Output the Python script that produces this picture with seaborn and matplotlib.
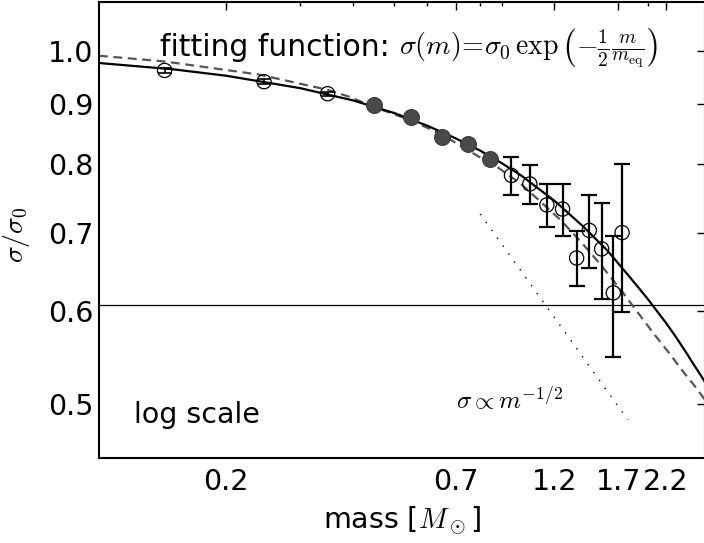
import matplotlib
matplotlib.use("Agg")
import matplotlib.pyplot as plt
import seaborn as sns
from matplotlib.ticker import LogLocator, NullLocator, NullFormatter


# open symbols at the low mass end (tiny error bars)
low_mass = [0.143, 0.246, 0.348]
low_sigma = [0.962, 0.941, 0.919]
low_err = [0.004, 0.004, 0.004]

# filled symbols
mid_mass = [0.448, 0.548, 0.648, 0.750, 0.844]
mid_sigma = [0.899, 0.878, 0.844, 0.833, 0.808]

# open symbols at the high mass end
high_mass = [0.949, 1.049, 1.151, 1.254, 1.354, 1.451, 1.552, 1.654, 1.735]
high_sigma = [0.783, 0.770, 0.739, 0.733, 0.666, 0.703, 0.678, 0.622, 0.700]
high_err = [0.029, 0.029, 0.031, 0.037, 0.036, 0.050, 0.064, 0.074, 0.101]

# solid curve (fitting function)
fit_mass = [0.1, 0.15, 0.2, 0.3, 0.4, 0.5, 0.6, 0.7, 0.8, 0.9, 1.0,
            1.2, 1.4, 1.6, 1.8, 1.9, 2.0, 2.1, 2.2, 2.3, 2.4, 2.48, 2.56,
            2.64, 2.72]
fit_sigma = [0.976, 0.964, 0.952, 0.929, 0.907, 0.885, 0.863, 0.842, 0.822,
             0.802, 0.783, 0.745, 0.709, 0.676, 0.643, 0.628, 0.614, 0.600,
             0.587, 0.574, 0.561, 0.551, 0.541, 0.532, 0.523]

# grey dashed curve
dash_mass = [0.1, 0.143, 0.24, 0.348, 0.39, 0.45, 0.55, 0.65, 0.791, 0.874,
             1.0, 1.238, 1.378, 1.535, 1.733, 1.88, 2.08, 2.25, 2.42, 2.57,
             2.72]
dash_sigma = [0.990, 0.979, 0.954, 0.926, 0.914, 0.895, 0.872, 0.848, 0.813,
              0.797, 0.770, 0.718, 0.689, 0.659, 0.624, 0.600, 0.572, 0.552,
              0.533, 0.519, 0.505]

# dotted sigma ~ m^-1/2 guide
guide_mass = [0.80, 1.79]
guide_sigma = [0.726, 0.485]

# horizontal reference level exp(-1/2)
ref_level = 0.607

x_ticks = [0.2, 0.7, 1.2, 1.7, 2.2]
y_ticks = [0.5, 0.6, 0.7, 0.8, 0.9, 1.0]


def main():
	sns.set_style("white")
	plt.rcParams["font.family"] = ["DejaVu Sans"]
	plt.rcParams["mathtext.fontset"] = "cm"
	plt.rcParams["text.color"] = "k"
	plt.rcParams["axes.labelcolor"] = "k"

	fig = plt.figure(figsize=(7.04, 5.43), dpi=100)
	ax = fig.add_axes([99 / 704, 85 / 543, 605.5 / 704, 456 / 543])

	ax.axhline(ref_level, color="k", lw=0.9, zorder=1)
	sns.lineplot(x=guide_mass, y=guide_sigma, ax=ax, color="k", lw=1.0,
				 linestyle=(0, (1, 6)), sort=False, estimator=None, zorder=1)
	sns.lineplot(x=dash_mass, y=dash_sigma, ax=ax, color="#555555", lw=1.6,
				 linestyle=(0, (4, 2.5)), sort=False, estimator=None, zorder=2)
	sns.lineplot(x=fit_mass, y=fit_sigma, ax=ax, color="k", lw=1.6,
				 sort=False, estimator=None, zorder=3)

	ax.errorbar(low_mass, low_sigma, yerr=low_err, fmt="none", ecolor="k",
				elinewidth=1.2, capsize=5, capthick=1.2, zorder=4)
	ax.errorbar(high_mass, high_sigma, yerr=high_err, fmt="none", ecolor="k",
				elinewidth=1.6, capsize=5.5, capthick=1.6, zorder=4)

	sns.scatterplot(x=low_mass + high_mass, y=low_sigma + high_sigma, ax=ax,
					marker="o", s=105, facecolors="none", edgecolor="k",
					linewidth=0.9, zorder=5)
	sns.scatterplot(x=mid_mass, y=mid_sigma, ax=ax, marker="o", s=130,
					color="#4a4a4a", edgecolor="#3a3a3a", linewidth=0.8,
					zorder=5)

	ax.set_xscale("log")
	ax.set_yscale("log")
	ax.set_xlim(0.1, 2.72)
	ax.set_ylim(0.45, 1.1)

	ax.set_xticks(x_ticks)
	ax.set_xticklabels([str(t) for t in x_ticks])
	ax.xaxis.set_minor_locator(LogLocator(base=10, subs=range(2, 10)))
	ax.xaxis.set_minor_formatter(NullFormatter())
	ax.set_yticks(y_ticks)
	ax.set_yticklabels([f"{t:.1f}" for t in y_ticks])
	ax.yaxis.set_minor_locator(NullLocator())

	ax.tick_params(which="both", direction="in", top=True, right=True,
				   width=1, colors="k", labelsize=20.5)
	ax.tick_params(which="major", length=6)
	ax.tick_params(which="minor", length=3)
	ax.tick_params(axis="x", pad=7)
	ax.tick_params(axis="y", pad=4)
	for s in ax.spines.values():
		s.set_linewidth(1.5)
		s.set_color("k")

	ax.set_xlabel(r"mass [$M_\odot$]", fontsize=20.5)
	ax.set_ylabel(r"$\sigma/\sigma_0$", fontsize=20)
	ax.xaxis.set_label_coords(0.5, -0.104)
	ax.yaxis.set_label_coords(-0.11, 0.49)

	ax.text(0.100, 0.882, "fitting function:", transform=ax.transAxes,
			fontsize=21.5, ha="left", va="baseline")
	ax.text(0.495, 0.882,
			r"$\sigma(m)\!=\!\sigma_0\,\exp\left(-\frac{1}{2}\frac{m}{m_{\rm eq}}\right)$",
			transform=ax.transAxes, fontsize=20, ha="left", va="baseline")
	ax.text(0.057, 0.095, "log scale", transform=ax.transAxes,
			fontsize=20.5, ha="left", va="center")
	ax.text(0.59, 0.128, r"$\sigma \propto m^{-1/2}$", transform=ax.transAxes,
			fontsize=18, ha="left", va="center")

	fig.savefig("out.png", dpi=100)


if __name__ == "__main__":
	main()
